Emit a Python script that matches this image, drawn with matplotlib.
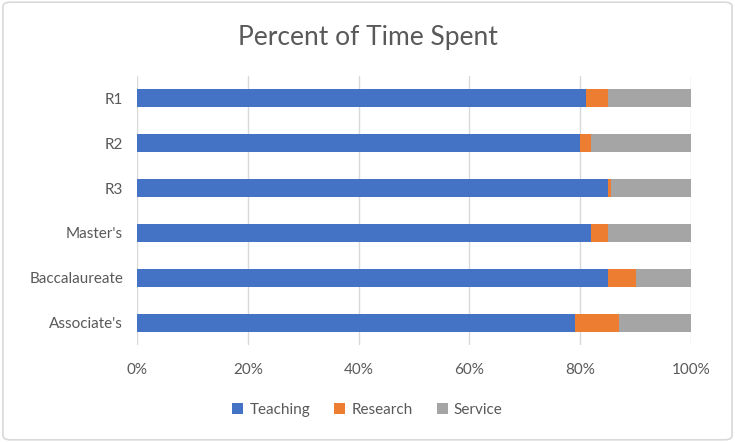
import matplotlib
matplotlib.use("Agg")
from matplotlib import pyplot as plt
from matplotlib.patches import FancyBboxPatch

categories = ["R1", "R2", "R3", "Master's", "Baccalaureate", "Associate's"]
teaching = [81, 80, 85, 82, 85, 79]
research = [4, 2, 0.5, 3, 5, 8]
service = [15, 18, 14.5, 15, 10, 13]
x_ticks = [0, 20, 40, 60, 80, 100]
x_labels = ["0%", "20%", "40%", "60%", "80%", "100%"]

plt.rcParams["font.family"] = ["Lato", "DejaVu Sans"]
text_color = "#595959"

fig = plt.figure(figsize=(7.35, 4.42), dpi=100)
ax = fig.add_axes([0.1864, 0.2195, 0.7537, 0.6085])

# chart border
fig.patches.append(FancyBboxPatch((0.004, 0.005), 0.992, 0.99, boxstyle="round,pad=0,rounding_size=0.01",
                                  transform=fig.transFigure, facecolor="none",
                                  edgecolor="#d9d9d9", linewidth=1.2))

y = list(range(len(categories)))
left2 = [t + r for t, r in zip(teaching, research)]
bh = 0.4
ax.barh(y, teaching, height=bh, color="#4472C4", label="Teaching", zorder=3)
ax.barh(y, research, left=teaching, height=bh, color="#ED7D31", label="Research", zorder=3)
ax.barh(y, service, left=left2, height=bh, color="#A5A5A5", label="Service", zorder=3)

ax.set_ylim(len(categories) - 0.5, -0.5)
ax.set_xlim(0, 100)
ax.set_yticks(y)
ax.set_yticklabels(categories)
ax.set_xticks(x_ticks)
ax.set_xticklabels(x_labels)
ax.tick_params(axis="both", length=0, labelsize=11, colors=text_color)
ax.tick_params(axis="x", pad=13)
ax.tick_params(axis="y", pad=10)
ax.grid(axis="x", color="#d9d9d9", linewidth=1, zorder=0)
for s in ax.spines.values():
    s.set_visible(False)

fig.text(0.5, 0.915, "Percent of Time Spent", ha="center", va="center",
         fontsize=19, color=text_color)

fig.legend(loc="center", bbox_to_anchor=(0.5, 0.073), ncol=3, frameon=False,
           handlelength=0.7, handleheight=0.7, handletextpad=0.4, columnspacing=1.6,
           fontsize=11, labelcolor=text_color)

fig.savefig("out.png", dpi=100)
